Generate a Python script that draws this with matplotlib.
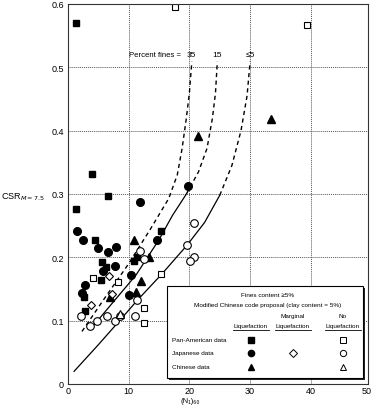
import matplotlib
matplotlib.use("Agg")
import matplotlib.pyplot as plt
from matplotlib.patches import Rectangle

plt.rcParams['font.family'] = ['Liberation Sans', 'DejaVu Sans']

# 数据点 (N1)60 , CSR
pan_liq_n = [1.3, 4.0, 6.6, 1.4, 4.4, 15.4, 5.6, 6.3, 5.4, 10.9, 11.3, 2.6, 2.8]
pan_liq_csr = [0.57, 0.332, 0.297, 0.277, 0.228, 0.241, 0.192, 0.184, 0.164, 0.195, 0.20, 0.137, 0.115]
pan_noliq_n = [17.6, 39.4, 4.1, 8.3, 12.6, 12.6, 15.4]
pan_noliq_csr = [0.595, 0.567, 0.167, 0.161, 0.12, 0.097, 0.173]

jap_liq_n = [19.8, 1.5, 2.5, 5.0, 6.6, 7.9, 11.9, 5.8, 7.7, 2.8, 2.3, 10.4, 10.0, 14.7]
jap_liq_csr = [0.312, 0.241, 0.227, 0.214, 0.209, 0.217, 0.288, 0.178, 0.186, 0.157, 0.143, 0.172, 0.14, 0.228]
jap_marg_n = [6.8, 7.3, 3.8]
jap_marg_csr = [0.171, 0.142, 0.124]
jap_noliq_n = [2.1, 3.7, 4.8, 6.5, 7.7, 8.5, 11.0, 11.4, 11.9, 12.6, 19.6, 20.8, 20.8, 20.1]
jap_noliq_csr = [0.108, 0.092, 0.099, 0.107, 0.099, 0.107, 0.107, 0.132, 0.21, 0.197, 0.219, 0.254, 0.20, 0.194]

chn_liq_n = [21.4, 33.4, 10.9, 13.3, 12.1, 11.2, 7.0]
chn_liq_csr = [0.392, 0.419, 0.227, 0.20, 0.162, 0.146, 0.138]
chn_noliq_n = [8.6]
chn_noliq_csr = [0.11]

# 曲线 (细粒含量 35%, 15%, <=5%)
f35_n = [2.3, 6.0, 10.0, 13.6, 16.6, 18.0, 18.8, 19.5, 20.0, 20.4]
f35_csr = [0.083, 0.135, 0.19, 0.245, 0.293, 0.33, 0.372, 0.42, 0.46, 0.509]
f15_n = [4.0, 7.5, 11.2, 13.3, 15.0, 17.2, 19.5, 21.5, 22.9, 23.8, 24.3, 24.6]
f15_csr = [0.09, 0.13, 0.172, 0.203, 0.228, 0.266, 0.30, 0.335, 0.372, 0.42, 0.46, 0.509]
f5_n = [1.0, 5.0, 8.5, 11.4, 15.4, 19.6, 22.5, 25.0, 27.0, 28.5, 29.5, 30.0]
f5_csr = [0.02, 0.062, 0.10, 0.132, 0.173, 0.219, 0.255, 0.298, 0.345, 0.40, 0.455, 0.509]
curve_labels = ['35', '15', '≤5']

fig = plt.figure(figsize=(3.73, 4.06), dpi=100)
ax = fig.add_axes([68 / 373, 21 / 406, 300 / 373, 380 / 406])
ax.set_xlim(0, 300 / 6.07)
ax.set_ylim(0, 0.6)
ax.set_xticks([0, 10, 20, 30, 40])
ax.set_yticks([0, 0.1, 0.2, 0.3, 0.4, 0.5, 0.6])
ax.set_yticklabels(['0', '0.1', '0.2', '0.3', '0.4', '0.5', '0.6'])
ax.tick_params(length=0, labelsize=6.5, pad=3)
ax.tick_params(axis='x', pad=1.5)
ax.grid(True, linestyle=(0, (1, 1)), color='#555555', linewidth=0.7)
ax.set_axisbelow(True)
for s in ax.spines.values():
    s.set_linewidth(0.8)
    s.set_color('#333333')
# 最右端刻度 50 (落在框外)
fig.text(372 / 373, 1 - 392 / 406, '50', fontsize=6.5, ha='right', va='center')

# 曲线: CSR<=0.3 实线, 以上虚线
for n, c in [(f35_n, f35_csr), (f15_n, f15_csr), (f5_n, f5_csr)]:
    if n is f35_n:
        ax.plot(n, c, color='black', lw=1.0, dashes=(3, 2.5))
        continue
    k = max(i for i in range(len(c)) if c[i] <= 0.3)
    ax.plot(n[:k + 1], c[:k + 1], color='black', lw=0.9)
    ax.plot(n[k:], c[k:], color='black', lw=1.0, dashes=(3, 2.5))

for n, c, lab in zip([f35_n, f15_n, f5_n], [f35_csr, f15_csr, f5_csr], curve_labels):
    ax.text(n[-1], 0.515, lab, ha='center', va='bottom', fontsize=6)
ax.text(18.6, 0.515, 'Percent fines =', ha='right', va='bottom', fontsize=5.6)

ms = 5
ax.plot(pan_liq_n, pan_liq_csr, 's', color='black', ms=ms, ls='none')
ax.plot(jap_liq_n, jap_liq_csr, 'o', color='black', ms=ms + 0.5, ls='none')
ax.plot(chn_liq_n, chn_liq_csr, '^', color='black', ms=ms + 0.5, ls='none')
ax.plot(pan_noliq_n, pan_noliq_csr, 's', mfc='white', mec='black', mew=0.8, ms=ms, ls='none')
ax.plot(jap_marg_n, jap_marg_csr, 'D', mfc='white', mec='black', mew=0.8, ms=ms - 0.8, ls='none')
ax.plot(jap_noliq_n, jap_noliq_csr, 'o', mfc='white', mec='black', mew=0.8, ms=ms + 0.5, ls='none')
ax.plot(chn_noliq_n, chn_noliq_csr, '^', mfc='white', mec='black', mew=0.8, ms=ms + 0.5, ls='none')


# 图例框 (像素 -> 坐标轴比例)
def px(x, y):
    return (x - 68) / 300, (385 - y) / 380


x0, y0 = px(167, 379)
x1, y1 = px(363, 287)
ax.add_patch(Rectangle((x0 + 0.006, y0 - 0.006), x1 - x0, y1 - y0, transform=ax.transAxes,
                       facecolor='#222222', edgecolor='none', zorder=5))
ax.add_patch(Rectangle((x0, y0), x1 - x0, y1 - y0, transform=ax.transAxes,
                       facecolor='white', edgecolor='black', lw=0.8, zorder=6))
t = dict(transform=ax.transAxes, zorder=7, fontsize=4.6, ha='center', va='center')
ax.text(*px(268, 296), 'Fines content ≥5%', **t)
ax.text(*px(268, 306), 'Modified Chinese code proposal (clay content = 5%)', **t)
ax.text(*px(293, 317), 'Marginal', **t)
ax.text(*px(343, 317), 'No', **t)
for xx in [251, 293, 343]:
    ax.text(*px(xx, 327), 'Liquefaction', **t)
    a, b = px(xx - 18, 331)
    c, _ = px(xx + 18, 331)
    ax.plot([a, c], [b, b], color='black', lw=0.6, transform=ax.transAxes, zorder=7)
rows = ['Pan-American data', 'Japanese data', 'Chinese data']
for lab, yy in zip(rows, [341, 354, 368]):
    ax.text(*px(172, yy), lab, transform=ax.transAxes, zorder=7, fontsize=4.6, ha='left', va='center')

lm = dict(transform=ax.transAxes, zorder=8, ls='none', ms=ms - 0.5)
ax.plot(*px(251, 341), 's', color='black', **lm)
ax.plot(*px(343, 341), 's', mfc='white', mec='black', mew=0.7, **lm)
ax.plot(*px(251, 354), 'o', color='black', **lm)
ax.plot(*px(293, 354), 'D', mfc='white', mec='black', mew=0.7, transform=ax.transAxes, zorder=8, ms=ms - 1.3)
ax.plot(*px(343, 354), 'o', mfc='white', mec='black', mew=0.7, **lm)
ax.plot(*px(251, 368), '^', color='black', **lm)
ax.plot(*px(343, 368), '^', mfc='white', mec='black', mew=0.7, **lm)

fig.text(1 / 373, 1 - 197 / 406, r'CSR$_{M=7.5}$', fontsize=6.5, ha='left', va='center')
fig.text(190 / 373, 0.5 / 406, '(N₁)₆₀', fontsize=5.5, ha='center', va='bottom')

fig.savefig('out.png', dpi=100)
